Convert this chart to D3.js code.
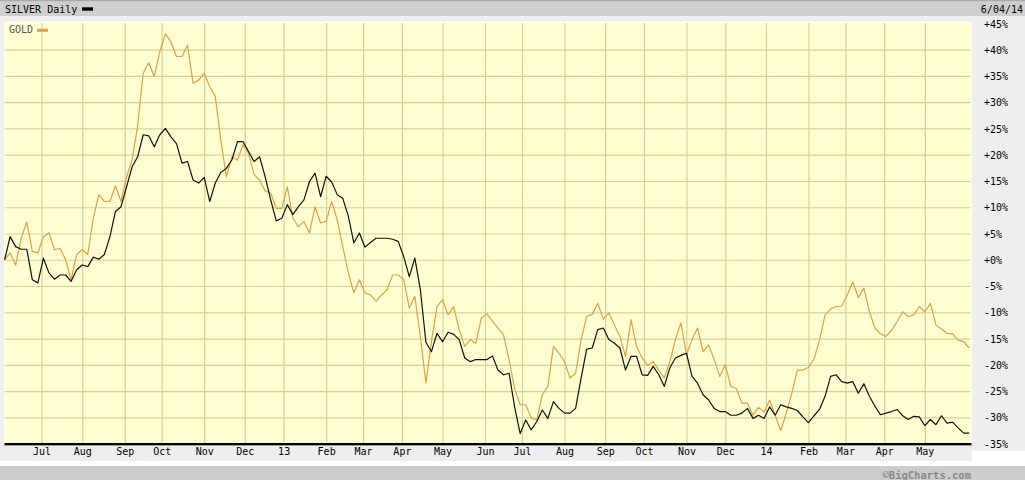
<!DOCTYPE html>
<html>
<head>
<meta charset="utf-8">
<script src="https://cdn.jsdelivr.net/npm/d3@7"></script>
<style>
  html, body { margin: 0; padding: 0; background: #ffffff; }
  svg { display: block; }
  text { font-family: "DejaVu Sans Mono", monospace; }
</style>
</head>
<body>
<svg id="chart" width="1025" height="480"></svg>
<script>
// ---------- DATA ----------
const startDate = "2012-06-04";          // first trading day shown
const endDate = "2014-06-04";            // last trading day shown
const sampleStepWeekdays = 3;            // values below are read every 3rd weekday, last one = endDate

const silverPct = [
  0, 4.4, 2.5, 2.0, 2.0, -3.8, -4.4, 0.3, -2.5, -3.7,
  -2.9, -2.9, -4.1, -1.9, -1.0, -1.3, 0.5, 0.1, 1.0, 4.4,
  9.2, 10.1, 13.9, 17.7, 19.6, 23.8, 23.6, 21.5, 23.8, 25.0,
  23.4, 22.1, 18.4, 18.7, 15.2, 14.6, 15.7, 11.1, 14.6, 16.6,
  17.4, 19.0, 22.5, 22.5, 20.6, 18.7, 19.6, 15.8, 11.4, 7.4,
  7.9, 10.5, 8.6, 10.1, 11.4, 14.9, 16.5, 12.0, 15.9, 14.8,
  12.4, 11.7, 8.3, 3.2, 5.1, 2.4, 3.3, 4.1, 4.1, 4.1,
  3.9, 3.5, 0.6, -3.2, 0.3, -5.7, -15.7, -17.5, -14.0, -15.6,
  -13.8, -14.2, -15.2, -18.7, -19.4, -19.0, -19.0, -19.0, -18.3, -21.0,
  -21.9, -21.6, -28.0, -33.1, -30.5, -32.4, -30.8, -28.6, -30.2, -27.0,
  -28.3, -29.2, -29.2, -28.3, -22.5, -17.0, -16.8, -13.3, -13.0, -15.2,
  -15.9, -16.8, -21.0, -18.4, -18.4, -21.9, -22.0, -20.3, -21.9, -24.1,
  -20.6, -18.7, -18.2, -17.8, -22.2, -23.5, -25.7, -26.7, -28.3, -28.9,
  -28.9, -29.6, -29.6, -29.2, -28.3, -30.2, -29.6, -30.2, -28.0, -29.6,
  -27.6, -28.0, -28.3, -28.7, -29.9, -31.0, -29.7, -28.5, -26.0, -22.2,
  -21.9, -23.2, -23.5, -23.2, -25.4, -23.6, -26.0, -27.9, -29.5, -29.2,
  -28.9, -28.5, -29.7, -30.4, -29.8, -29.9, -31.6, -30.4, -31.4, -29.7,
  -31.1, -30.9, -32.0, -33.0, -33.0, -32.8
];

const goldPct = [
  0, 1.3, -1.0, 4.1, 7.2, 1.6, 1.3, 4.4, 5.1, 1.9,
  2.2, 0, -3.8, 1.0, 1.9, 1.0, 7.9, 12.4, 11.1, 11.1,
  14.1, 11.1, 15.8, 19.0, 25.5, 35.5, 37.5, 34.9, 39.6, 43.0,
  41.5, 38.7, 38.7, 40.9, 33.6, 34.2, 35.5, 33.0, 31.1, 22.8,
  15.8, 19.6, 19.0, 21.9, 20.3, 16.2, 15.2, 13.1, 12.7, 9.8,
  9.8, 13.9, 7.9, 6.3, 7.3, 5.1, 10.1, 7.0, 7.3, 11.1,
  7.6, 2.5, -2.5, -6.3, -3.8, -6.3, -6.7, -7.9, -6.7, -5.7,
  -2.9, -2.9, -3.8, -9.2, -7.0, -14.6, -23.5, -15.6, -8.9, -7.6,
  -10.5, -8.9, -13.3, -16.5, -15.2, -15.9, -11.1, -10.3, -11.7, -13.0,
  -14.3, -19.0, -24.5, -27.6, -27.6, -30.1, -30.5, -25.7, -24.1, -16.5,
  -17.8, -19.4, -22.5, -21.6, -15.2, -10.8, -10.4, -8.3, -11.3, -10.1,
  -12.4, -14.6, -18.4, -11.4, -16.5, -18.7, -20.1, -19.4, -21.0, -22.5,
  -19.4, -15.2, -12.0, -18.1, -15.2, -13.0, -17.5, -16.2, -19.0, -22.2,
  -20.0, -24.1, -24.5, -27.3, -27.3, -29.6, -28.1, -29.0, -26.7, -29.6,
  -32.5, -29.2, -25.4, -21.0, -21.0, -20.5, -18.9, -15.3, -10.5, -9.4,
  -8.9, -8.8, -6.7, -4.2, -7.2, -5.4, -9.9, -13.0, -14.1, -14.6,
  -13.4, -11.8, -9.9, -10.8, -10.5, -8.9, -9.9, -8.3, -12.4, -13.2,
  -14.0, -14.1, -15.3, -15.6, -16.8, -16.7
];

const monthTickDates = [
  "2012-07-01", "2012-08-01", "2012-09-01", "2012-10-01", "2012-11-01", "2012-12-01",
  "2013-01-01", "2013-02-01", "2013-03-01", "2013-04-01", "2013-05-01", "2013-06-01",
  "2013-07-01", "2013-08-01", "2013-09-01", "2013-10-01", "2013-11-01", "2013-12-01",
  "2014-01-01", "2014-02-01", "2014-03-01", "2014-04-01", "2014-05-01"
];
const monthTickLabels = [
  "Jul", "Aug", "Sep", "Oct", "Nov", "Dec", "13", "Feb", "Mar", "Apr", "May", "Jun",
  "Jul", "Aug", "Sep", "Oct", "Nov", "Dec", "14", "Feb", "Mar", "Apr", "May"
];
const pctTicks = [45, 40, 35, 30, 25, 20, 15, 10, 5, 0, -5, -10, -15, -20, -25, -30, -35];

const titleText = "SILVER Daily";
const compareText = "GOLD";
const dateText = "6/04/14";
const creditText = "\u00A9BigCharts.com";

// ---------- HELPERS ----------
const parse = d3.utcParse("%Y-%m-%d");
const t0 = parse(startDate);
function weekdayIndex(dateStr) {
  const days = Math.round((parse(dateStr) - t0) / 864e5);
  return Math.floor(days / 7) * 5 + Math.min(days % 7, 5);
}
const lastIdx = weekdayIndex(endDate);
const sampleIdx = d3.range(0, lastIdx, sampleStepWeekdays);
sampleIdx.push(lastIdx);

const silverData = silverPct.map((v, i) => ({ x: sampleIdx[i], v }));
const goldData = goldPct.map((v, i) => ({ x: sampleIdx[i], v }));

// ---------- LAYOUT ----------
const W = 1025, H = 480;
const plot = { left: 4.5, right: 971.5, top: 22, bottom: 444 };

const x = d3.scaleLinear().domain([0, lastIdx]).range([4.6, 969.2]);
const y = d3.scaleLinear().domain([-35, 45]).range([443.6, 23.4]);

const svg = d3.select("#chart");

// backgrounds
svg.append("rect").attr("x", 0).attr("y", 0).attr("width", W).attr("height", H).attr("fill", "#ffffff");
svg.append("rect").attr("x", 0).attr("y", 16).attr("width", 972).attr("height", 445).attr("fill", "#eeeeee");
svg.append("rect").attr("x", 972).attr("y", 16).attr("width", W - 972).attr("height", 435).attr("fill", "#eeeeee");
svg.append("rect").attr("x", 0).attr("y", 0).attr("width", W).attr("height", 16).attr("fill", "#cfcfcf");
svg.append("rect").attr("x", 0).attr("y", 0).attr("width", W).attr("height", 1.2).attr("fill", "#a8a8a8");
svg.append("rect").attr("x", 0).attr("y", 466).attr("width", W).attr("height", 14).attr("fill", "#cccccc");

// plot area
svg.append("rect")
  .attr("x", plot.left).attr("y", plot.top)
  .attr("width", plot.right - plot.left).attr("height", plot.bottom - plot.top)
  .attr("fill", "#fefed0").attr("stroke", "#ffffff").attr("stroke-width", 1);

// grid - horizontal
const gy = svg.append("g").attr("class", "grid-y")
  .attr("transform", `translate(${plot.left},0)`)
  .call(d3.axisRight(y).tickValues(pctTicks.slice(1)).tickSize(plot.right - plot.left - 1).tickFormat(""));
gy.select(".domain").remove();
gy.selectAll("line").attr("stroke", "#d3d397").attr("stroke-width", 1.2);

// grid - vertical
const tickIdx = monthTickDates.map(weekdayIndex);
const gx = svg.append("g").attr("class", "grid-x")
  .attr("transform", `translate(0,${plot.bottom})`)
  .call(d3.axisTop(x).tickValues(tickIdx).tickSize(plot.bottom - plot.top - 1).tickFormat(""));
gx.select(".domain").remove();
gx.selectAll("line").attr("stroke", "#d3d397").attr("stroke-width", 1.2);

// lines
const line = d3.line().x(d => x(d.x)).y(d => y(d.v));
svg.append("path").datum(goldData).attr("d", line)
  .attr("fill", "none").attr("stroke", "#d9a344").attr("stroke-width", 1.2).attr("stroke-linejoin", "round");
svg.append("path").datum(silverData).attr("d", line)
  .attr("fill", "none").attr("stroke", "#111111").attr("stroke-width", 1.2).attr("stroke-linejoin", "round");

// bottom baseline
svg.append("line").attr("x1", plot.left).attr("x2", plot.right)
  .attr("y1", 444).attr("y2", 444).attr("stroke", "#000").attr("stroke-width", 2);
svg.append("line").attr("x1", plot.left).attr("x2", plot.right)
  .attr("y1", 445.5).attr("y2", 445.5).attr("stroke", "#999").attr("stroke-width", 1);

// x axis labels
const xa = svg.append("g").attr("transform", "translate(0,446)")
  .call(d3.axisBottom(x).tickValues(tickIdx).tickSize(0).tickPadding(2)
    .tickFormat((d, i) => monthTickLabels[i]));
xa.select(".domain").remove();
xa.selectAll("text").attr("font-family", "DejaVu Sans Mono, monospace")
  .attr("font-size", 10).attr("fill", "#000").attr("dy", "0.71em");

// y axis labels (right)
const ya = svg.append("g").attr("transform", "translate(984,0)")
  .call(d3.axisRight(y).tickValues(pctTicks).tickSize(0).tickPadding(0)
    .tickFormat(d => (d >= 0 ? "+" : "") + d + "%"));
ya.select(".domain").remove();
ya.selectAll("text").attr("font-family", "DejaVu Sans Mono, monospace")
  .attr("font-size", 10).attr("fill", "#000").attr("text-anchor", "start").attr("dy", "0.36em");

// header
svg.append("text").attr("x", 5).attr("y", 12.5).attr("font-size", 10).attr("fill", "#000").text(titleText);
svg.append("rect").attr("x", 82).attr("y", 7.3).attr("width", 11).attr("height", 3.4).attr("fill", "#000");
svg.append("text").attr("x", 1023).attr("y", 12.5).attr("font-size", 10).attr("fill", "#000")
  .attr("text-anchor", "end").text(dateText);

// legend inside plot
svg.append("text").attr("x", 9).attr("y", 33.3).attr("font-size", 10).attr("fill", "#555").text(compareText);
svg.append("rect").attr("x", 37).attr("y", 28.8).attr("width", 11).attr("height", 3).attr("fill", "#d9a344");

// credit
svg.append("text").attr("x", 971).attr("y", 478.5)
  .attr("font-family", "DejaVu Sans, Verdana, sans-serif").attr("font-weight", "bold")
  .attr("font-size", 10.5).attr("fill", "#8a8a8a").attr("text-anchor", "end").text(creditText);
</script>
</body>
</html>
